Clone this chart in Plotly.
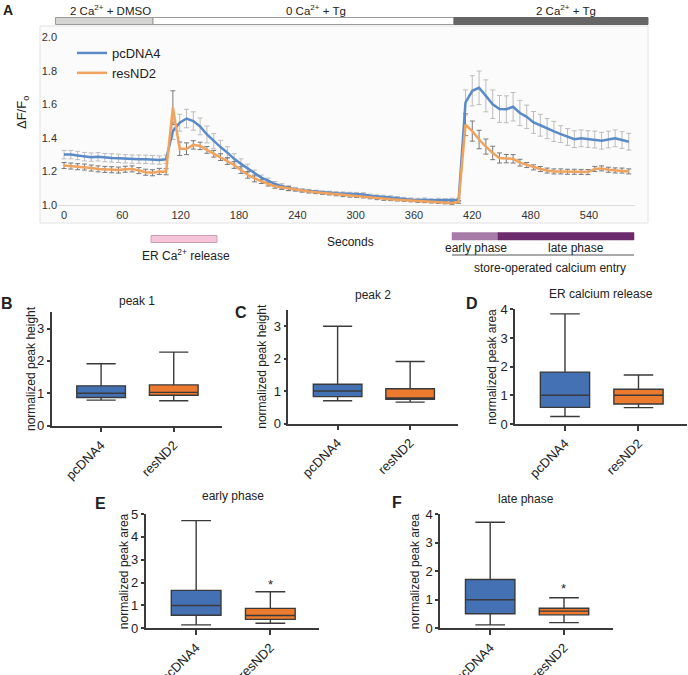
import plotly.graph_objects as go

W, H = 688, 675
def px(x): return x / W
def py(y): return 1 - y / H

# ---------------- Panel A data ----------------
time_s = [0, 7, 14, 21, 28, 35, 42, 49, 56, 63, 70, 77, 84, 91, 98, 105, 112, 119, 126, 133,
          140, 147, 154, 161, 168, 175, 182, 189, 196, 203, 210, 217, 224, 231, 238, 245, 252, 259, 266, 273,
          280, 287, 294, 301, 308, 315, 322, 329, 336, 343, 350, 357, 364, 371, 378, 385, 392, 399, 406, 413,
          420, 427, 434, 441, 448, 455, 462, 469, 476, 483, 490, 497, 504, 511, 518, 525, 532, 539, 546, 553,
          560, 567, 574, 581]
pcdna4_mean = [1.300, 1.300, 1.295, 1.288, 1.285, 1.287, 1.282, 1.280, 1.278, 1.275, 1.273, 1.273, 1.272, 1.270, 1.268, 1.272, 1.440, 1.490, 1.515, 1.500,
               1.468, 1.420, 1.380, 1.345, 1.312, 1.275, 1.245, 1.218, 1.188, 1.163, 1.145, 1.125, 1.112, 1.100, 1.092, 1.087, 1.083, 1.078, 1.074, 1.072,
               1.070, 1.068, 1.066, 1.065, 1.063, 1.055, 1.050, 1.048, 1.045, 1.040, 1.036, 1.032, 1.030, 1.032, 1.028, 1.030, 1.028, 1.030, 1.030, 1.610,
               1.680, 1.698, 1.650, 1.600, 1.572, 1.570, 1.585, 1.548, 1.525, 1.492, 1.475, 1.455, 1.438, 1.422, 1.405, 1.392, 1.397, 1.393, 1.390, 1.383,
               1.390, 1.397, 1.387, 1.377]
pcdna4_sem = [0.025, 0.025, 0.025, 0.025, 0.025, 0.025, 0.025, 0.025, 0.025, 0.025, 0.025, 0.025, 0.025, 0.025, 0.025, 0.025, 0.050, 0.050, 0.055, 0.055,
              0.050, 0.050, 0.045, 0.040, 0.035, 0.030, 0.030, 0.025, 0.020, 0.015, 0.015, 0.015, 0.015, 0.015, 0.010, 0.010, 0.010, 0.010, 0.010, 0.010,
              0.010, 0.010, 0.010, 0.010, 0.010, 0.010, 0.010, 0.010, 0.010, 0.010, 0.010, 0.010, 0.010, 0.010, 0.010, 0.010, 0.010, 0.010, 0.010, 0.075,
              0.090, 0.100, 0.095, 0.085, 0.080, 0.080, 0.085, 0.075, 0.070, 0.065, 0.065, 0.060, 0.060, 0.050, 0.050, 0.050, 0.050, 0.050, 0.050, 0.050,
              0.050, 0.050, 0.050, 0.050]
resnd2_mean = [1.235, 1.232, 1.228, 1.226, 1.220, 1.215, 1.212, 1.210, 1.208, 1.213, 1.215, 1.205, 1.195, 1.192, 1.200, 1.198, 1.580, 1.335, 1.335, 1.358,
               1.352, 1.328, 1.305, 1.285, 1.262, 1.238, 1.208, 1.180, 1.158, 1.140, 1.125, 1.112, 1.105, 1.098, 1.092, 1.085, 1.080, 1.076, 1.072, 1.068,
               1.063, 1.058, 1.055, 1.053, 1.050, 1.045, 1.040, 1.036, 1.034, 1.032, 1.030, 1.027, 1.024, 1.022, 1.020, 1.018, 1.015, 1.012, 1.018, 1.478,
               1.440, 1.390, 1.348, 1.310, 1.280, 1.276, 1.275, 1.252, 1.238, 1.224, 1.214, 1.205, 1.200, 1.200, 1.198, 1.198, 1.197, 1.196, 1.215, 1.218,
               1.210, 1.206, 1.205, 1.200]
resnd2_sem = [0.018, 0.018, 0.018, 0.018, 0.018, 0.018, 0.018, 0.018, 0.018, 0.018, 0.018, 0.018, 0.018, 0.018, 0.018, 0.018, 0.100, 0.040, 0.035, 0.025,
              0.022, 0.020, 0.020, 0.020, 0.020, 0.020, 0.020, 0.020, 0.020, 0.012, 0.012, 0.012, 0.012, 0.012, 0.008, 0.008, 0.008, 0.008, 0.008, 0.008,
              0.008, 0.008, 0.008, 0.008, 0.008, 0.008, 0.008, 0.008, 0.008, 0.008, 0.008, 0.008, 0.008, 0.008, 0.008, 0.008, 0.008, 0.008, 0.008, 0.065,
              0.060, 0.055, 0.045, 0.040, 0.030, 0.025, 0.025, 0.020, 0.015, 0.015, 0.015, 0.015, 0.015, 0.015, 0.015, 0.015, 0.015, 0.015, 0.015, 0.015,
              0.015, 0.015, 0.015, 0.015]

# ---------------- Box-plot data: [min, q1, median, q3, max] ----------------
groups = ["pcDNA4", "resND2"]
peak1_pcdna4 = [0.79, 0.87, 1.00, 1.23, 1.91]
peak1_resnd2 = [0.77, 0.94, 1.03, 1.26, 2.27]
peak2_pcdna4 = [0.70, 0.83, 1.00, 1.21, 3.00]
peak2_resnd2 = [0.66, 0.75, 0.79, 1.07, 1.91]
er_pcdna4 = [0.26, 0.58, 1.00, 1.81, 3.84]
er_resnd2 = [0.57, 0.70, 1.00, 1.21, 1.71]
early_pcdna4 = [0.15, 0.57, 1.00, 1.66, 4.71]
early_resnd2 = [0.22, 0.39, 0.56, 0.87, 1.60]
late_pcdna4 = [0.12, 0.51, 1.00, 1.71, 3.71]
late_resnd2 = [0.20, 0.47, 0.60, 0.70, 1.07]

BLUE_LINE = "#5a8bc8"
ORANGE_LINE = "#f0a35e"
BLUE_BOX = "#4470b4"
ORANGE_BOX = "#ec7b30"
FONT = "Liberation Sans, Arial, sans-serif"

fig = go.Figure()

# error bars first (under lines)
fig.add_trace(go.Scatter(x=time_s, y=pcdna4_mean, mode="markers", marker=dict(size=1, opacity=0),
                         error_y=dict(type="data", array=pcdna4_sem, color="#bdbdbd", thickness=1, width=2.5),
                         showlegend=False, hoverinfo="skip", xaxis="x", yaxis="y"))
fig.add_trace(go.Scatter(x=time_s, y=resnd2_mean, mode="markers", marker=dict(size=1, opacity=0),
                         error_y=dict(type="data", array=resnd2_sem, color="#7a7a7a", thickness=1, width=2.5),
                         showlegend=False, hoverinfo="skip", xaxis="x", yaxis="y"))
fig.add_trace(go.Scatter(x=time_s, y=pcdna4_mean, mode="lines", name="pcDNA4",
                         line=dict(color=BLUE_LINE, width=2.5), xaxis="x", yaxis="y"))
fig.add_trace(go.Scatter(x=time_s, y=resnd2_mean, mode="lines", name="resND2",
                         line=dict(color=ORANGE_LINE, width=2.5), xaxis="x", yaxis="y"))

# ---------------- Box panels ----------------
panels = [
    (2, peak1_pcdna4, peak1_resnd2, 51.7, 221.7, 312.3, 425.7, 3.5, "peak 1", "normalized peak height", "B", (7, 303), 301, 31, None),
    (3, peak2_pcdna4, peak2_resnd2, 288.3, 458.0, 310.0, 423.5, 3.5, "peak 2", "normalized peak height", "C", (241, 312), 295, 262, None),
    (4, er_pcdna4, er_resnd2, 515.0, 687.0, 309.3, 424.0, 4.0, "ER calcium release", "normalized peak area", "D", (472, 303), 294, 492, None),
    (5, early_pcdna4, early_resnd2, 145.7, 319.3, 514.0, 628.3, 5.0, "early phase", "normalized peak area", "E", (100, 503), 496, 124, 1.9),
    (6, late_pcdna4, late_resnd2, 440.0, 612.7, 514.0, 628.3, 4.0, "late phase", "normalized peak area", "F", (397, 502), 499, 415, 1.4),
]

def ann(text, x, y, size, ang=0, **kw):
    return dict(text=text, x=px(x), y=py(y), xref="paper", yref="paper", showarrow=False,
                xanchor="center", yanchor="middle", textangle=ang,
                font=dict(size=size, color="#222", family=FONT), **kw)

annotations = []
layout_axes = {}
for (k, s_pc, s_res, x0, x1, yt, yb, ymax, title, ylabel, letter, lpos, ty, ylx, ast) in panels:
    xa, ya = f"x{k}", f"y{k}"
    for g, st, col in [(groups[0], s_pc, BLUE_BOX), (groups[1], s_res, ORANGE_BOX)]:
        fig.add_trace(go.Box(x=[g], lowerfence=[st[0]], q1=[st[1]], median=[st[2]], q3=[st[3]],
                             upperfence=[st[4]], fillcolor=col, line=dict(color="#3a3a3a", width=1.4),
                             whiskerwidth=0.6, width=0.67, boxpoints=False, showlegend=False,
                             xaxis=xa, yaxis=ya))
    layout_axes[f"xaxis{k}"] = dict(domain=[px(x0), px(x1)], anchor=ya, type="category",
                                    categoryorder="array", categoryarray=groups, automargin=False,
                                    range=[-0.68, 1.66], showline=True, linecolor="#3a3a3a", linewidth=1.5,
                                    ticks="outside", ticklen=5, tickcolor="#3a3a3a", tickwidth=1.5,
                                    tickangle=-45, tickfont=dict(size=13, color="#222", family=FONT),
                                    showgrid=False, zeroline=False, fixedrange=True)
    layout_axes[f"yaxis{k}"] = dict(domain=[py(yb), py(yt)], anchor=xa, range=[0, ymax], dtick=1,
                                    showline=True, linecolor="#3a3a3a", linewidth=1.5, automargin=False,
                                    ticks="outside", ticklen=3, tickcolor="#3a3a3a", tickwidth=1.5,
                                    tickfont=dict(size=13, color="#222", family=FONT),
                                    showgrid=False, zeroline=False, fixedrange=True)
    annotations.append(ann(title, (x0 + x1) / 2, ty, 12))
    annotations.append(ann(ylabel, ylx, (yt + yb) / 2, 12, -90))
    annotations.append(ann(f"<b>{letter}</b>", lpos[0], lpos[1], 16))
    if ast is not None:
        annotations.append(dict(text="*", x=groups[1], y=ast, xref=xa, yref=ya, showarrow=False,
                                xanchor="center", yanchor="middle",
                                font=dict(size=13, color="#222", family=FONT)))

# ---------------- Panel A annotations ----------------
A_ann = [
    ("<b>A</b>", 8, 10, 14, 0),
    ("2 Ca<sup>2+</sup> + DMSO", 110, 10, 11.5, 0),
    ("0 Ca<sup>2+</sup> + Tg", 316, 10, 11.5, 0),
    ("2 Ca<sup>2+</sup> + Tg", 566, 10, 11.5, 0),
    ("ΔF/F<sub>o</sub>", 22, 113, 13, -90),
    ("Seconds", 350, 242, 12, 0),
    ("ER Ca<sup>2+</sup> release", 186, 255, 12, 0),
    ("early phase", 476, 248, 12, 0),
    ("late phase", 576, 248, 12, 0),
    ("store-operated calcium entry", 550, 268, 12, 0),
]
for t, x, y, s, ang in A_ann:
    annotations.append(ann(t, x, y, s, ang))

def rect(x0, y0, x1, y1, fill, line="#999", lw=1, layer="below"):
    return dict(type="rect", xref="paper", yref="paper", x0=px(x0), x1=px(x1), y0=py(y1), y1=py(y0),
                fillcolor=fill, line=dict(color=line, width=lw), layer=layer)

shapes = [
    rect(40, 26, 648, 223, "#fbfbfb", "#e2e2e2", 1),
    rect(55.5, 17.5, 153, 24.5, "#d4d4d2", "#9a9a9a", 1, "above"),
    rect(153, 17.5, 454, 24.5, "#ffffff", "#9a9a9a", 1, "above"),
    rect(454, 17.5, 648, 24.5, "#666666", "#666666", 1, "above"),
    rect(151, 235.5, 217, 242.5, "#f5c4d8", "#c9a0b2", 1, "above"),
    rect(452, 232.5, 498, 240, "#a67ba7", "#a67ba7", 0.5, "above"),
    rect(498, 232.5, 634, 240, "#6c2b6d", "#6c2b6d", 0.5, "above"),
    dict(type="line", xref="paper", yref="paper", x0=px(452), x1=px(634), y0=py(255), y1=py(255),
         line=dict(color="#555", width=1)),
]

fig.update_layout(
    template="none",
    width=W, height=H, margin=dict(l=0, r=0, t=0, b=0, pad=0, autoexpand=False),
    paper_bgcolor="white", plot_bgcolor="rgba(0,0,0,0)",
    font=dict(family=FONT, color="#222"),
    xaxis=dict(domain=[px(58), px(635)], anchor="y", range=[-6.2, 587.4], automargin=False,
               tickvals=[0, 60, 120, 180, 240, 300, 360, 420, 480, 540],
               showline=True, linecolor="#dcdcdc", linewidth=1, ticks="", showgrid=False, zeroline=False,
               tickfont=dict(size=11, color="#333", family=FONT), fixedrange=True),
    yaxis=dict(domain=[py(205), py(27)], anchor="x", range=[1.0, 2.06], automargin=False,
               tickvals=[1.0, 1.2, 1.4, 1.6, 1.8, 2.0], tickformat=".1f",
               showline=False, ticks="", showgrid=False, zeroline=False,
               tickfont=dict(size=11, color="#333", family=FONT), fixedrange=True),
    legend=dict(x=px(72), y=py(38), xanchor="left", yanchor="top", bgcolor="rgba(0,0,0,0)",
                font=dict(size=13, color="#222", family=FONT), tracegroupgap=0, itemwidth=30),
    annotations=annotations,
    shapes=shapes,
    **layout_axes,
)

fig.write_html("out.html", config={"displayModeBar": False},
               post_script="document.body.style.margin='0px';document.body.style.overflow='hidden';")
